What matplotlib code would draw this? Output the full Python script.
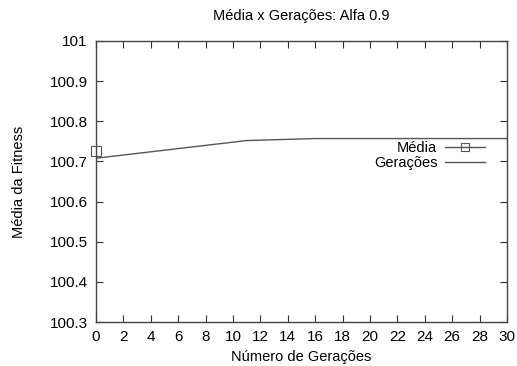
import numpy as np
import matplotlib.pyplot as plt
from matplotlib.ticker import FuncFormatter

plt.rcParams['font.family'] = ['Liberation Sans', 'DejaVu Sans']

## data
media_x = [0]
media_y = [100.727]

geracoes_x = [0, 1, 2, 3, 4, 5, 6, 7, 8, 9, 10, 11, 12, 13, 14, 15, 16, 17, 18, 19, 20,
              21, 22, 23, 24, 25, 26, 27, 28, 29, 30]
geracoes_y = [100.708, 100.712, 100.716, 100.720, 100.724, 100.728, 100.732, 100.736,
              100.740, 100.744, 100.748, 100.752, 100.753, 100.754, 100.755, 100.756,
              100.757, 100.757, 100.757, 100.757, 100.757, 100.757, 100.757, 100.757,
              100.757, 100.757, 100.757, 100.757, 100.757, 100.757, 100.757]

xticks = np.arange(0, 31, 2)
yticks = [100.3, 100.4, 100.5, 100.6, 100.7, 100.8, 100.9, 101.0]

fig = plt.figure(figsize=(5.17, 3.66), dpi=100)
ax = fig.add_axes([96/517, 44/366, 411/517, 281/366])

ax.plot(media_x, media_y, color='#555555', lw=1, marker='s', ms=7,
        mfc='none', mec='#555555', mew=0.8, label='Média', clip_on=False)
ax.plot(geracoes_x, geracoes_y, color='#555555', lw=1, label='Gerações')

ax.set_xlim(0, 30)
ax.set_ylim(100.3, 101)
ax.set_xticks(xticks)
ax.set_yticks(yticks)
ax.yaxis.set_major_formatter(FuncFormatter(lambda v, p: f'{v:g}'))
ax.tick_params(direction='in', length=5, width=0.8, top=True, right=True,
               labelsize=11, colors='#333333', labelcolor='black', pad=6)
for s in ax.spines.values():
    s.set_color('#444444')
    s.set_linewidth(1)

ax.set_title('Média x Gerações: Alfa 0.9', fontsize=10.5, pad=15)
ax.set_xlabel('Número de Gerações', fontsize=10.5, labelpad=4)
ax.set_ylabel('Média da Fitness', fontsize=10.5, labelpad=17)

ax.legend(loc='upper right', bbox_to_anchor=(0.96, 0.665), frameon=False,
          markerfirst=False, fontsize=10.5, handlelength=2.7, handletextpad=0.55,
          labelspacing=0.05, borderaxespad=0, markerscale=0.75)

fig.savefig('out.png', dpi=100)
